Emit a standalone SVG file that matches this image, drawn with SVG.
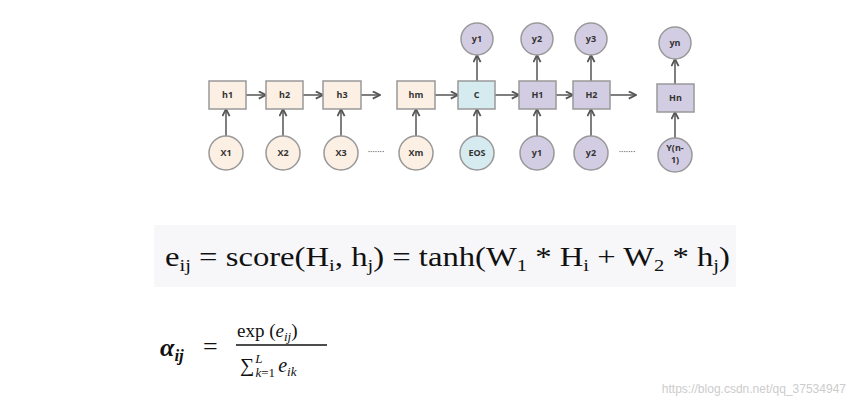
<svg xmlns="http://www.w3.org/2000/svg" width="858" height="411" viewBox="0 0 858 411">
<defs>
<style>
.b{fill:#fcefe3;stroke:#999;stroke-width:1.5}
.c{fill:#d5ebf0;stroke:#999;stroke-width:1.5}
.p{fill:#d3cde3;stroke:#999;stroke-width:1.5}
.t{font-family:"Open Sans","DejaVu Sans",sans-serif;font-size:9px;font-weight:bold;fill:#333;text-anchor:middle}
.e{stroke:#555;stroke-width:1.5;fill:none;marker-end:url(#a)}
.m{font-family:"Liberation Serif",serif;fill:#111}
</style>
<marker id="a" viewBox="0 0 10 10" refX="9" refY="5" markerWidth="6" markerHeight="6" orient="auto"><path d="M1 1L9 5L1 9" fill="none" stroke="#555" stroke-width="2"/></marker>
</defs>
<rect width="858" height="411" fill="#fff"/>
<g id="connectors">
<path class="e" d="M246 95H266"/><path class="e" d="M303 95H323"/><path class="e" d="M361 95H380"/><path class="e" d="M435 95H458"/><path class="e" d="M495 95H519"/><path class="e" d="M556 95H573"/><path class="e" d="M610 95H636"/>
<path class="e" d="M226 136V109"/><path class="e" d="M283 136V109"/><path class="e" d="M341 136V109"/><path class="e" d="M416 136V109"/><path class="e" d="M477 136V109"/><path class="e" d="M537 136V109"/><path class="e" d="M591 136V109"/><path class="e" d="M675 138V112"/>
<path class="e" d="M477 81V55"/><path class="e" d="M537 81V55"/><path class="e" d="M591 81V55"/><path class="e" d="M675 84V59"/>
</g>
<g id="h1"><rect class="b" x="209" y="81" width="37" height="28"/><text class="t" x="227.5" y="98">h1</text></g>
<g id="h2"><rect class="b" x="266" y="81" width="37" height="28"/><text class="t" x="284.5" y="98">h2</text></g>
<g id="h3"><rect class="b" x="323" y="81" width="38" height="28"/><text class="t" x="342" y="98">h3</text></g>
<g id="hm"><rect class="b" x="397" y="81" width="38" height="28"/><text class="t" x="416" y="98">hm</text></g>
<g id="C"><rect class="c" x="458" y="81" width="37" height="28"/><text class="t" x="476.5" y="98">C</text></g>
<g id="H1"><rect class="p" x="519" y="81" width="37" height="28"/><text class="t" x="537.5" y="98">H1</text></g>
<g id="H2"><rect class="p" x="573" y="81" width="37" height="28"/><text class="t" x="591.5" y="98">H2</text></g>
<g id="Hn"><rect class="p" x="657" y="84" width="37" height="28"/><text class="t" x="675.5" y="101">Hn</text></g>
<g id="X1"><circle class="b" cx="226" cy="153" r="17"/><text class="t" x="226" y="156">X1</text></g>
<g id="X2"><circle class="b" cx="283" cy="153" r="17"/><text class="t" x="283" y="156">X2</text></g>
<g id="X3"><circle class="b" cx="341" cy="153" r="17"/><text class="t" x="341" y="156">X3</text></g>
<g id="Xm"><circle class="b" cx="416" cy="153" r="17"/><text class="t" x="416" y="156">Xm</text></g>
<g id="EOS"><circle class="c" cx="477" cy="153" r="17"/><text class="t" x="477" y="156">EOS</text></g>
<g id="y1b"><circle class="p" cx="537" cy="153" r="17"/><text class="t" x="537" y="156">y1</text></g>
<g id="y2b"><circle class="p" cx="591" cy="153" r="17"/><text class="t" x="591" y="156">y2</text></g>
<g id="Yn1"><circle class="p" cx="675" cy="155" r="17"/><text class="t" x="675" y="151" font-size="8">Y(n-</text><text class="t" x="675" y="163" font-size="8">1)</text></g>
<g id="y1t"><circle class="p" cx="477" cy="39" r="16"/><text class="t" x="477" y="42">y1</text></g>
<g id="y2t"><circle class="p" cx="537" cy="39" r="16"/><text class="t" x="537" y="42">y2</text></g>
<g id="y3t"><circle class="p" cx="591" cy="39" r="16"/><text class="t" x="591" y="42">y3</text></g>
<g id="ynt"><circle class="p" cx="675" cy="43" r="16"/><text class="t" x="675" y="46">yn</text></g>
<text class="t" x="376" y="155" style="font-weight:normal">·······</text>
<text class="t" x="627" y="155" style="font-weight:normal">·······</text>
<rect x="154" y="225" width="582" height="62" fill="#f7f6f9"/>
<text class="m" x="165" y="266" font-size="27" textLength="565" lengthAdjust="spacingAndGlyphs">e<tspan font-size="17" dy="5">ij</tspan><tspan dy="-5"> = score(H</tspan><tspan font-size="17" dy="5">i</tspan><tspan dy="-5">, h</tspan><tspan font-size="17" dy="5">j</tspan><tspan dy="-5">) = tanh(W</tspan><tspan font-size="17" dy="5">1</tspan><tspan dy="-5"> * H</tspan><tspan font-size="17" dy="5">i</tspan><tspan dy="-5"> + W</tspan><tspan font-size="17" dy="5">2</tspan><tspan dy="-5"> * h</tspan><tspan font-size="17" dy="5">j</tspan><tspan dy="-5">)</tspan></text>
<text class="m" x="160" y="356" font-size="26" font-style="italic" font-weight="bold">α<tspan font-size="17" dy="5">ij</tspan></text>
<text class="m" x="203" y="355" font-size="26">=</text>
<text class="m" x="237" y="337" font-size="19">exp (<tspan font-style="italic">e</tspan><tspan font-style="italic" font-size="13" dy="4">ij</tspan><tspan dy="-4">)</tspan></text>
<line x1="236" y1="345" x2="327" y2="345" stroke="#111" stroke-width="1.5"/>
<text class="m" x="240" y="372" font-size="20">∑<tspan font-style="italic" font-size="13" dx="1" dy="-9">L</tspan><tspan font-style="italic" font-size="13" dx="-7" dy="14">k</tspan><tspan font-size="13">=1</tspan><tspan font-style="italic" dx="3" dy="-5">e</tspan><tspan font-style="italic" font-size="13" dy="4">ik</tspan></text>
<text x="846" y="393" font-family="Liberation Sans,sans-serif" font-size="12" fill="#ccc" text-anchor="end">https://blog.csdn.net/qq_37534947</text>
</svg>
